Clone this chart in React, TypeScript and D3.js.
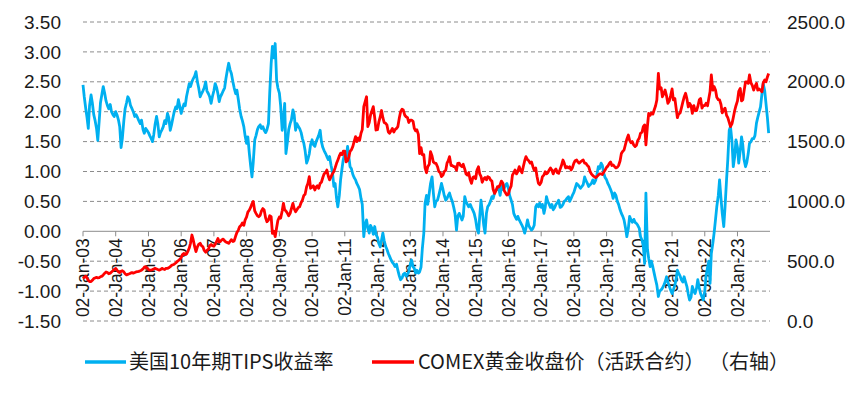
import React from 'react'
import * as d3 from 'd3'

// readings taken twice a month (2nd and 16th), Jan 2003 - Dec 2023
const tipsYield: number[] = [
  // 2003
  2.45, 2.25, 2.05, 1.90, 1.72, 2.10, 2.28, 2.15, 1.95, 1.86, 1.72, 1.52, 1.85, 2.15, 2.30, 2.42, 2.30, 2.18, 2.10, 2.05, 2.12, 2.00, 1.95, 1.92,
  // 2004
  2.00, 1.95, 1.86, 1.75, 1.40, 1.55, 1.85, 2.05, 2.15, 2.25, 2.20, 2.10, 2.05, 2.00, 1.92, 1.95, 1.90, 1.85, 1.80, 1.86, 1.70, 1.64, 1.72, 1.69,
  // 2005
  1.65, 1.60, 1.55, 1.50, 1.62, 1.78, 1.92, 1.80, 1.58, 1.65, 1.70, 1.75, 1.85, 1.80, 1.97, 1.90, 1.69, 1.78, 1.90, 2.00, 2.08, 2.05, 2.20, 2.10,
  // 2006
  1.97, 2.05, 2.13, 2.10, 2.25, 2.35, 2.47, 2.42, 2.50, 2.55, 2.60, 2.67, 2.50, 2.40, 2.25, 2.30, 2.35, 2.40, 2.50, 2.35, 2.30, 2.25, 2.14, 2.25,
  // 2007
  2.35, 2.47, 2.40, 2.30, 2.17, 2.25, 2.30, 2.35, 2.40, 2.55, 2.70, 2.81, 2.70, 2.64, 2.50, 2.40, 2.30, 2.36, 2.20, 2.05, 1.92, 1.85, 1.75, 1.60,
  // 2008
  1.47, 1.58, 1.30, 1.10, 0.91, 1.15, 1.53, 1.60, 1.70, 1.75, 1.78, 1.72, 1.75, 1.69, 1.65, 1.70, 1.80, 2.31, 2.80, 3.09, 2.90, 3.14, 2.53, 2.40,
  // 2009
  2.31, 2.10, 1.69, 1.85, 2.14, 1.30, 1.50, 1.70, 1.80, 1.86, 2.03, 1.95, 1.69, 1.80, 1.75, 1.72, 1.65, 1.55, 1.47, 1.35, 1.14, 1.20, 1.30, 1.45,
  // 2010
  1.53, 1.45, 1.42, 1.50, 1.55, 1.60, 1.69, 1.50, 1.40, 1.35, 1.30, 1.25, 1.20, 1.25, 1.10, 1.00, 0.75, 0.80, 0.55, 0.41, 0.60, 0.86, 1.05, 1.20,
  // 2011
  1.30, 1.20, 1.42, 1.25, 1.08, 1.05, 0.95, 0.90, 0.86, 0.80, 0.75, 0.70, 0.55, 0.45, -0.09, 0.10, 0.19, 0.05, -0.03, 0.10, 0.05, -0.05, 0.08, -0.05,
  // 2012
  -0.10, -0.20, -0.26, -0.15, -0.03, -0.15, -0.25, -0.30, -0.37, -0.42, -0.48, -0.52, -0.55, -0.59, -0.55, -0.65, -0.75, -0.81, -0.78, -0.72, -0.70, -0.75, -0.72, -0.68,
  // 2013
  -0.55, -0.48, -0.59, -0.62, -0.70, -0.65, -0.70, -0.68, -0.60, -0.30, -0.03, 0.47, 0.60, 0.45, 0.64, 0.80, 0.91, 0.65, 0.41, 0.50, 0.52, 0.60, 0.70, 0.80,
  // 2014
  0.70, 0.60, 0.52, 0.55, 0.60, 0.64, 0.55, 0.50, 0.40, 0.30, 0.02, 0.25, 0.30, 0.25, 0.19, 0.25, 0.58, 0.50, 0.45, 0.41, 0.45, 0.40, 0.35, 0.30,
  // 2015
  0.19, 0.05, -0.03, 0.25, 0.52, 0.35, 0.10, -0.03, 0.30, 0.41, 0.45, 0.50, 0.58, 0.55, 0.65, 0.69, 0.70, 0.72, 0.60, 0.75, 0.70, 0.72, 0.78, 0.80,
  // 2016
  0.72, 0.60, 0.52, 0.45, 0.30, 0.25, 0.20, 0.25, 0.19, 0.15, 0.10, 0.05, -0.03, 0.05, 0.19, 0.10, 0.05, 0.02, 0.05, 0.10, 0.41, 0.45, 0.41, 0.47,
  // 2017
  0.40, 0.45, 0.30, 0.40, 0.58, 0.50, 0.45, 0.40, 0.45, 0.36, 0.40, 0.45, 0.48, 0.52, 0.40, 0.41, 0.45, 0.50, 0.52, 0.55, 0.58, 0.50, 0.55, 0.60,
  // 2018
  0.65, 0.72, 0.80, 0.78, 0.75, 0.72, 0.75, 0.78, 0.91, 0.85, 0.80, 0.75, 0.78, 0.80, 0.86, 0.80, 0.85, 0.95, 1.08, 1.05, 1.14, 1.10, 0.97, 0.90,
  // 2019
  0.86, 0.80, 0.75, 0.70, 0.64, 0.55, 0.64, 0.60, 0.50, 0.45, 0.36, 0.30, 0.25, 0.19, 0.05, -0.09, 0.05, 0.25, 0.19, 0.15, 0.20, 0.15, 0.13, 0.10,
  // 2020
  0.05, -0.09, -0.15, -0.25, -0.54, 0.64, -0.30, -0.45, -0.59, -0.50, -0.60, -0.70, -0.81, -0.90, -1.09, -1.00, -0.98, -0.95, -0.90, -0.85, -0.76, -0.85, -0.92, -0.98,
  // 2021
  -1.04, -0.98, -0.90, -0.80, -0.65, -0.70, -0.75, -0.81, -0.85, -0.76, -0.85, -0.92, -1.05, -1.15, -1.10, -0.92, -1.00, -1.04, -0.95, -0.81, -0.95, -1.04, -1.10, -1.15,
  // 2022
  -1.00, -0.75, -0.60, -0.50, -0.87, -0.37, -0.20, -0.03, 0.20, 0.41, 0.60, 0.86, 0.55, 0.30, 0.08, 0.40, 0.86, 1.20, 1.69, 1.75, 1.50, 1.08, 1.25, 1.53,
  // 2023
  1.40, 1.14, 1.35, 1.58, 1.45, 1.20, 1.08, 1.15, 1.30, 1.47, 1.50, 1.55, 1.55, 1.60, 1.81, 1.90, 2.00, 2.08, 2.30, 2.47, 2.35, 2.14, 1.90, 1.64,
]

const goldPrice: number[] = [
  // 2003
  355, 365, 375, 360, 340, 330, 330, 340, 355, 360, 365, 360, 362, 370, 375, 385, 400, 410, 405, 395, 400, 410, 420, 430,
  // 2004
  440, 425, 410, 405, 415, 420, 410, 395, 385, 390, 395, 400, 405, 400, 405, 410, 412, 415, 420, 425, 435, 450, 454, 445,
  // 2005
  430, 425, 426, 430, 435, 440, 435, 430, 425, 430, 440, 435, 430, 440, 440, 445, 454, 465, 470, 475, 485, 496, 505, 515,
  // 2006
  530, 555, 565, 555, 560, 580, 610, 650, 719, 680, 620, 580, 620, 640, 650, 630, 620, 590, 575, 590, 600, 630, 640, 630,
  // 2007
  625, 640, 665, 690, 660, 665, 680, 685, 670, 660, 655, 650, 665, 680, 665, 670, 710, 740, 760, 788, 800, 820, 800, 844,
  // 2008
  870, 910, 928, 950, 980, 1000, 920, 900, 880, 872, 885, 920, 940, 928, 860, 830, 844, 880, 872, 733, 750, 705, 780, 840,
  // 2009
  870, 860, 920, 984, 930, 920, 900, 880, 900, 940, 984, 940, 914, 930, 950, 956, 990, 1010, 1050, 1060, 1123, 1150, 1207, 1110,
  // 2010
  1120, 1130, 1095, 1120, 1130, 1110, 1151, 1160, 1200, 1230, 1240, 1262, 1210, 1180, 1207, 1230, 1250, 1280, 1318, 1345, 1380, 1402, 1390, 1420,
  // 2011
  1420, 1330, 1340, 1370, 1420, 1430, 1460, 1500, 1541, 1500, 1530, 1510, 1570, 1600, 1792, 1830, 1875, 1625, 1660, 1720, 1760, 1792, 1700, 1597,
  // 2012
  1600, 1660, 1708, 1760, 1700, 1660, 1653, 1640, 1580, 1569, 1590, 1610, 1580, 1600, 1610, 1625, 1700, 1750, 1770, 1764, 1720, 1708, 1700, 1660,
  // 2013
  1680, 1680, 1670, 1610, 1590, 1600, 1560, 1400, 1450, 1390, 1390, 1280, 1240, 1290, 1310, 1416, 1380, 1330, 1320, 1318, 1290, 1250, 1240, 1207,
  // 2014
  1220, 1250, 1260, 1320, 1340, 1374, 1300, 1300, 1290, 1290, 1260, 1318, 1320, 1300, 1290, 1310, 1270, 1230, 1220, 1240, 1180, 1151, 1200, 1207,
  // 2015
  1190, 1260, 1290, 1230, 1210, 1160, 1190, 1200, 1180, 1207, 1200, 1180, 1170, 1100, 1067, 1090, 1123, 1120, 1140, 1170, 1151, 1090, 1070, 1053,
  // 2016
  1060, 1100, 1130, 1220, 1240, 1262, 1230, 1250, 1290, 1260, 1240, 1290, 1340, 1374, 1350, 1340, 1320, 1330, 1290, 1260, 1280, 1210, 1151, 1140,
  // 2017
  1160, 1207, 1220, 1248, 1230, 1240, 1262, 1280, 1260, 1230, 1260, 1270, 1240, 1235, 1270, 1300, 1346, 1320, 1280, 1290, 1280, 1290, 1262, 1280,
  // 2018
  1320, 1340, 1346, 1330, 1320, 1330, 1340, 1346, 1320, 1318, 1300, 1290, 1250, 1230, 1215, 1207, 1200, 1207, 1220, 1230, 1230, 1225, 1245, 1262,
  // 2019
  1285, 1295, 1318, 1330, 1300, 1305, 1290, 1280, 1285, 1300, 1340, 1400, 1420, 1430, 1480, 1520, 1555, 1510, 1490, 1500, 1470, 1458, 1470, 1510,
  // 2020
  1530, 1570, 1580, 1625, 1640, 1472, 1630, 1736, 1720, 1740, 1730, 1764, 1800, 1848, 2071, 1940, 1950, 1875, 1900, 1931, 1880, 1820, 1840, 1880,
  // 2021
  1940, 1850, 1860, 1780, 1700, 1730, 1740, 1780, 1830, 1870, 1904, 1860, 1790, 1820, 1800, 1736, 1800, 1760, 1760, 1792, 1850, 1860, 1780, 1800,
  // 2022
  1800, 1820, 1800, 1860, 1920, 2057, 1930, 1960, 1931, 1870, 1850, 1848, 1810, 1740, 1764, 1780, 1720, 1700, 1660, 1625, 1650, 1700, 1760, 1800,
  // 2023
  1840, 1920, 1945, 1840, 1850, 1920, 2000, 2000, 1987, 2057, 1990, 1970, 1931, 1960, 1987, 1930, 1940, 1930, 1917, 1990, 2015, 2000, 2040, 2070,
]

const leftTicks = [3.5, 3.0, 2.5, 2.0, 1.5, 1.0, 0.5, 0.0, -0.5, -1.0, -1.5]
const rightTicks = [2500, 2000, 1500, 1000, 500, 0]
const xTickLabels = [
  '02-Jan-03', '02-Jan-04', '02-Jan-05', '02-Jan-06', '02-Jan-07', '02-Jan-08', '02-Jan-09',
  '02-Jan-10', '02-Jan-11', '02-Jan-12', '02-Jan-13', '02-Jan-14', '02-Jan-15', '02-Jan-16',
  '02-Jan-17', '02-Jan-18', '02-Jan-19', '02-Jan-20', '02-Jan-21', '02-Jan-22', '02-Jan-23',
]
const tipsName = '美国10年期TIPS收益率'
const goldName = 'COMEX黄金收盘价（活跃合约）'
const goldAxisNote = '（右轴）'

const obsDate = (i: number) =>
  new Date(2003 + Math.floor(i / 24), Math.floor((i % 24) / 2), i % 2 ? 16 : 2)
const parseTick = d3.timeParse('%d-%b-%y')

const BLUE = '#00B0F0'
const RED = '#FF0000'
const numFont = '"Liberation Sans", Arial, sans-serif'
const cjkFont = '"Noto Sans CJK SC", "Liberation Sans", sans-serif'

export default function App() {
  const W = 866
  const H = 393

  const x = d3.scaleTime()
    .domain([new Date(2003, 0, 2), new Date(2023, 11, 31)])
    .range([83, 770])
  const yL = d3.scaleLinear().domain([-1.5, 3.5]).range([321, 22])
  const yR = d3.scaleLinear().domain([0, 2500]).range([321, 22])

  const tipsLine = d3.line<number>()
    .x((d, i) => x(obsDate(i)))
    .y(d => yL(d))
  const goldLine = d3.line<number>()
    .x((d, i) => x(obsDate(i)))
    .y(d => yR(d))

  const [x0, x1] = x.range()
  const zeroY = yL(0)

  return (
    <svg width={W} height={H} style={{ position: 'absolute', left: 0, top: 0, background: '#fff' }}>
      {/* grid */}
      {leftTicks.filter(t => t !== 0).map(t => (
        <line key={t} x1={x0} x2={x1} y1={yL(t)} y2={yL(t)}
          stroke="#8c8c8c" strokeWidth={1} strokeDasharray="4,3" />
      ))}

      {/* category axis at zero */}
      <line x1={x0} x2={x1} y1={zeroY} y2={zeroY} stroke="#8c8c8c" strokeWidth={1} />
      {xTickLabels.map(lbl => {
        const tx = x(parseTick(lbl) as Date)
        return (
          <g key={lbl}>
            <line x1={tx} x2={tx} y1={zeroY} y2={zeroY + 5} stroke="#8c8c8c" />
            <text transform={`translate(${tx},${zeroY + 7}) rotate(-90)`} textAnchor="end" dy="0.35em"
              fontFamily={numFont} fontSize={17.5} fill="#1a1a1a">{lbl}</text>
          </g>
        )
      })}

      {/* left axis */}
      {leftTicks.map(t => (
        <text key={t} x={61} y={yL(t)} dy="0.35em" textAnchor="end"
          fontFamily={numFont} fontSize={19} fill="#1a1a1a">{t.toFixed(2)}</text>
      ))}
      {/* right axis */}
      {rightTicks.map(t => (
        <text key={t} x={787} y={yR(t)} dy="0.35em" textAnchor="start"
          fontFamily={numFont} fontSize={19} fill="#1a1a1a">{t.toFixed(1)}</text>
      ))}

      {/* series */}
      <path d={tipsLine(tipsYield) ?? ''} fill="none" stroke={BLUE} strokeWidth={2.8} strokeLinejoin="round" />
      <path d={goldLine(goldPrice) ?? ''} fill="none" stroke={RED} strokeWidth={2.8} strokeLinejoin="round" />

      {/* legend */}
      <line x1={85} x2={126} y1={362} y2={362} stroke={BLUE} strokeWidth={3.5} />
      <text x={129} y={362} dy="0.35em" fontFamily={cjkFont} fontSize={20} fill="#1a1a1a">{tipsName}</text>
      <line x1={372} x2={414} y1={362} y2={362} stroke={RED} strokeWidth={3.5} />
      <text x={418} y={362} dy="0.35em" fontFamily={cjkFont} fontSize={20} fill="#1a1a1a">{goldName}</text>
      <text x={789} y={362} dy="0.35em" textAnchor="end" fontFamily={cjkFont} fontSize={20} fill="#1a1a1a">{goldAxisNote}</text>
    </svg>
  )
}
